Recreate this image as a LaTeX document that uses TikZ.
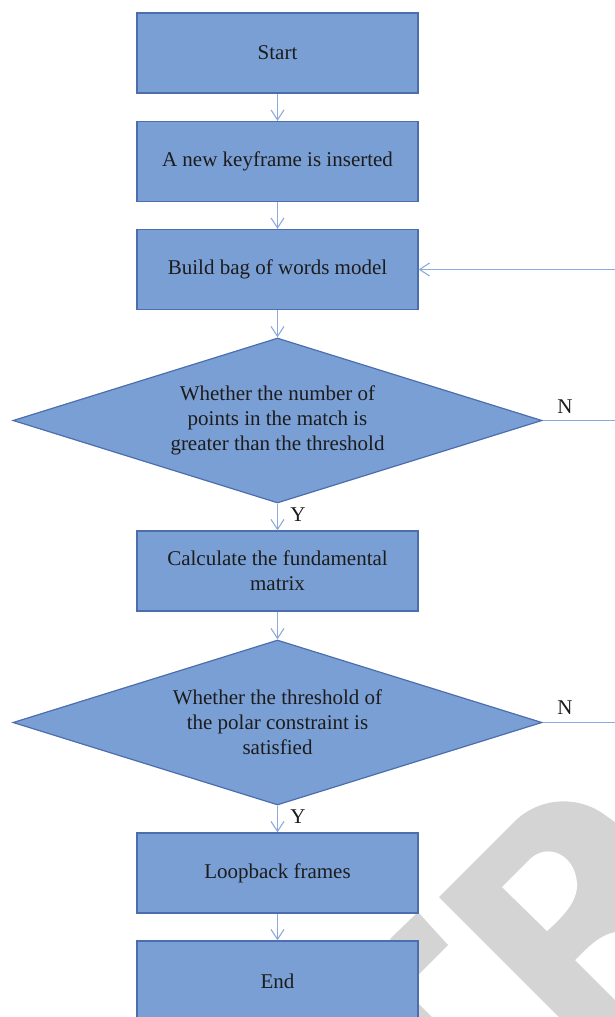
\documentclass[tikz,border=0pt]{standalone}
\usepackage{fontspec}
\setmainfont{Liberation Serif}
\usetikzlibrary{shapes.geometric,arrows.meta}
\definecolor{boxfill}{HTML}{7A9FD4}
\definecolor{boxedge}{HTML}{4C6EAE}
\definecolor{linkc}{HTML}{8EAADC}
\definecolor{wmark}{HTML}{D4D4D4}
\definecolor{txt}{HTML}{1C1C1C}
\tikzset{
  stepbox/.style={draw=boxedge, line width=1.2pt, fill=boxfill, minimum width=281pt, minimum height=80pt, inner sep=0pt, align=center, text=txt, font=\fontsize{21}{25}\selectfont},
  decision/.style={diamond, draw=boxedge, line width=1.2pt, fill=boxfill, aspect=3.2, minimum width=529pt, minimum height=165pt, inner sep=0pt, align=center, text=txt, font=\fontsize{21}{25}\selectfont},
  link/.style={draw=linkc, line width=1.1pt},
  arrowlink/.style={link, -{Straight Barb[length=10pt,width=13pt]}},
  lab/.style={text=txt, font=\fontsize{21}{25}\selectfont, inner sep=0pt}
}
\begin{document}
\begin{tikzpicture}[x=1pt, y=-1pt]
\useasboundingbox (0,0) rectangle (615,1017);
\clip (0,0) rectangle (615,1017);
% watermark (behind the chart)
\fill[wmark] (439,897) -- (515,821) .. controls (540,797) and (578,795) .. (605,815) -- (640,840) -- (640,928) -- (615,932) .. controls (600,935) and (590,945) .. (575,960) -- (700,1085) -- (627,1085) -- cycle;
\fill[white] (502,887) -- (530,859) .. controls (548,842) and (575,855) .. (577,883) .. controls (578,900) and (565,915) .. (547,931) -- cycle;
\fill[wmark] (392,937) -- (418,912) -- (448,945) -- (410,983) -- (380,952) -- cycle;
\fill[wmark] (410,995) -- (432,1017) -- (410,1017) -- cycle;
% nodes
\node[stepbox] (b1) at (277.5,53) {Start};
\node[stepbox] (b2) at (277.5,161.5) {A new keyframe is inserted};
\node[stepbox] (b3) at (277.5,269.5) {Build bag of words model};
\node[decision] (d1) at (277.5,420.5) {Whether the number of\\points in the match is\\greater than the threshold};
\node[stepbox] (b4) at (277.5,571) {Calculate the fundamental\\matrix};
\node[decision] (d2) at (277.5,722.5) {Whether the threshold of\\the polar constraint is\\satisfied};
\node[stepbox] (b5) at (277.5,873) {Loopback frames};
\node[stepbox] (b6) at (277.5,981) {End};
% labels
\node[lab] (y1) at (298,515) {Y};
\node[lab] (y2) at (298,817) {Y};
\node[lab] (n1) at (565,407) {N};
\node[lab] (n2) at (565,708) {N};
% connectors
\draw[arrowlink] (b1.south) -- (b2.north);
\draw[arrowlink] (b2.south) -- (b3.north);
\draw[arrowlink] (b3.south) -- (d1.north);
\draw[arrowlink] (d1.south) -- (b4.north);
\draw[arrowlink] (b4.south) -- (d2.north);
\draw[arrowlink] (d2.south) -- (b5.north);
\draw[arrowlink] (b5.south) -- (b6.north);
\coordinate (r1) at (640,420.5);
\coordinate (r2) at (640,722.5);
\draw[arrowlink] (d1.east) -- (r1) |- (b3.east);
\draw[link] (d2.east) -- (r2) -- (r1);
\end{tikzpicture}
\end{document}
